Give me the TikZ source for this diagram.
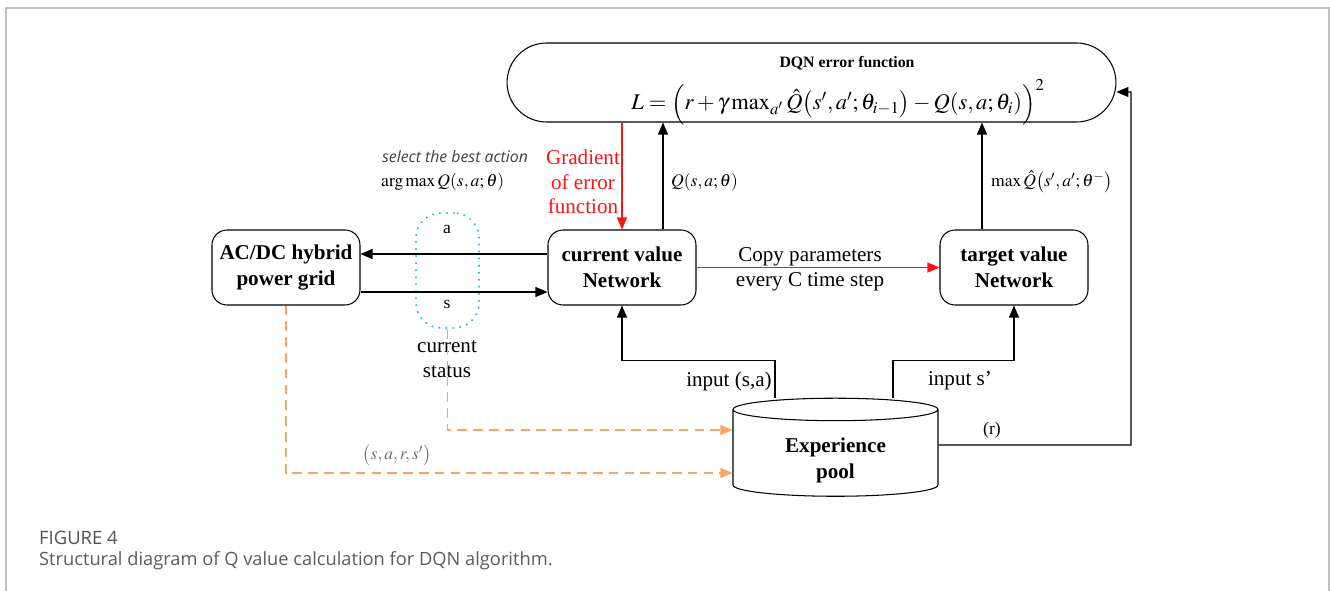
\documentclass[tikz,border=0pt]{standalone}
\usepackage{mathptmx}
\usepackage{fontspec}
\setmainfont{Liberation Serif}
\setsansfont{Open Sans}
\usetikzlibrary{positioning,arrows.meta,calc,shapes.geometric}
\definecolor{gradred}{HTML}{FF1414}
\definecolor{flowor}{HTML}{F7A567}
\definecolor{statecyan}{HTML}{22B5DC}
\definecolor{framegray}{HTML}{C0C0C0}
\definecolor{capgray}{HTML}{5C5C5C}
\definecolor{tuplegray}{HTML}{6E6E6E}

\begin{document}
\begin{tikzpicture}[x=0.02cm, y=-0.02cm, >={Triangle[length=0.24cm,width=0.2cm]},
    every node/.style={font=\fontsize{12}{14}\selectfont},
    netbox/.style={draw, semithick, rounded corners=0.3cm, minimum width=2.96cm, minimum height=1.5cm,
      align=center, font=\fontsize{12}{14.5}\selectfont\bfseries},
    link/.style={->, semithick},
    gradlink/.style={->, semithick, gradred},
    flowlink/.style={->, flowor, semithick, dash pattern=on 5.5pt off 3.5pt},
    smalllbl/.style={font=\fontsize{10}{12}\selectfont}]
  \useasboundingbox (0,0) rectangle (1330,591);
  % figure frame
  \draw[framegray, line width=0.6pt] (6,591) -- (6,8) -- (1329,8) -- (1329,591);

  % error function
  \node[draw, semithick, rounded corners=0.79cm, minimum width=12.18cm, minimum height=1.58cm] (errfn) at (811.5,82.5) {};
  \node[font=\fontsize{9}{11}\selectfont\bfseries] (errtitle) at (847,63) {DQN error function};
  \node[font=\fontsize{12.8}{14}\selectfont] (errformula) at (838,102)
    {$L=\Bigl(r+\gamma\max\nolimits_{a'}\hat{Q}\bigl(s',a';\theta_{i-1}\bigr)-Q(s,a;\theta_i)\Bigr)^{2}$};

  % networks and grid
  \node[netbox] (grid) at (286,267.5) {AC/DC hybrid\\power grid};
  \node[netbox] (cur) at (622,267.5) {current value\\Network};
  \node[netbox] (tgt) at (1014,267.5) {target value\\Network};
  \node[cylinder, shape border rotate=90, draw, semithick, aspect=0.2, minimum width=4.1cm, minimum height=1.84cm,
    align=center, font=\fontsize{12}{15}\selectfont\bfseries] (pool) at (835.5,455) {\rule{0pt}{0.5cm}Experience\\pool};

  % current status
  \node[draw=statecyan, line width=1.3pt, line cap=round, dash pattern=on 0pt off 4pt, rounded corners=0.5cm,
    minimum width=1.26cm, minimum height=2.3cm] (state) at (447.5,270.5) {};
  \draw[link] ([yshift=0.27cm]cur.west) -- ([yshift=0.27cm]grid.east);
  \draw[link] ([yshift=-0.49cm]grid.east) -- ([yshift=-0.49cm]cur.west);
  \node[smalllbl] (albl) at (447,229) {a};
  \node[smalllbl] (slbl) at (447,304) {s};
  \node[align=center] (statuslbl) at (447,359) {current\\status};
  \node[font=\fontsize{9}{10}\selectfont\sffamily\itshape, text=black!75] (bestlbl) at (455,157) {select the best action};
  \node[smalllbl, anchor=west] (argmaxlbl) at (375,182) {$\arg\max Q(s,a;\theta)$};

  % gradient and Q values
  \draw[gradlink] (cur.north |- errfn.south) -- (cur.north);
  \node[gradred, align=center] (gradlbl) at (583,182) {Gradient\\of error\\function};
  \draw[link] ([xshift=0.82cm]cur.north) -- ([xshift=0.82cm]cur.north |- errfn.south);
  \node[smalllbl, anchor=west] (qlbl) at (665,182) {$Q(s,a;\theta)$};
  \draw[link] ([xshift=-0.64cm]tgt.north) -- ([xshift=-0.64cm]tgt.north |- errfn.south);
  \node[smalllbl, anchor=west] (qhatlbl) at (985,182) {$\max\hat{Q}\bigl(s',a';\theta^{-}\bigr)$};

  % copy parameters
  \draw[gradlink] (cur.east) -- (tgt.west);
  \node[align=center] (copylbl) at (810,269) {Copy parameters\\every C time step};

  % replay inputs
  \draw[link] ([xshift=-1.21cm]pool.north) -- ++(0,-37) -| (cur.south);
  \node (inputsa) at (729,381) {input (s,a)};
  \draw[link] ([xshift=1.15cm]pool.north) -- ++(0,-37) -| (tgt.south);
  \node (inputs) at (960,381) {input s’};
  \coordinate (rturn) at (1131,92);
  \draw[link] ([yshift=0.2cm]pool.east) -| (rturn) -- ([yshift=-0.19cm]errfn.east);
  \node[smalllbl] (rlbl) at (992,430) {(r)};

  % transitions into the pool
  \draw[flowlink] (state.south) |- ([yshift=0.5cm]pool.west);
  \draw[flowlink] (grid.south) |- ([yshift=-0.36cm]pool.west);
  \node[smalllbl, text=tuplegray] (tuplelbl) at (397,455) {$\bigl(s,a,r,s'\bigr)$};

  % caption
  \node[anchor=west, font=\fontsize{10.5}{12}\selectfont\sffamily, text=capgray!90!black] (figno) at (33,538) {FIGURE 4};
  \node[anchor=west, font=\fontsize{10.4}{12}\selectfont\sffamily, text=capgray] (figcap) at (33,561)
    {Structural diagram of Q value calculation for DQN algorithm.};
\end{tikzpicture}
\end{document}
